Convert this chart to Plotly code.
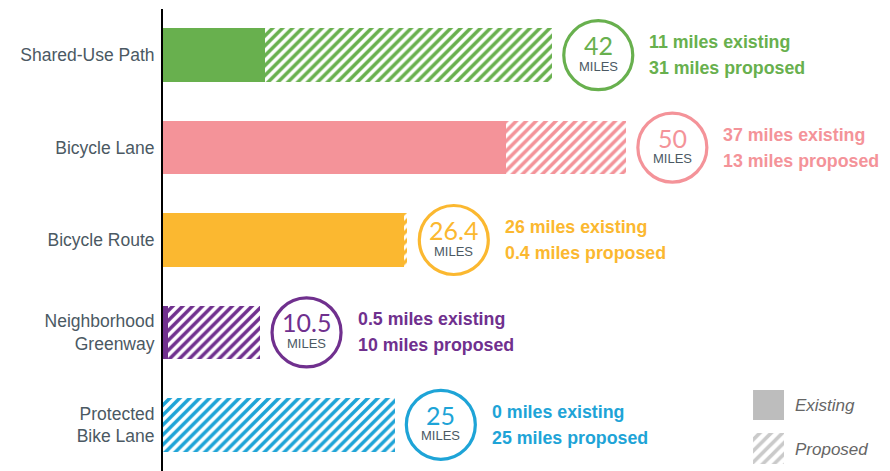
import plotly.graph_objects as go

categories = ["Shared-Use Path", "Bicycle Lane", "Bicycle Route",
              "Neighborhood<br>Greenway", "Protected<br>Bike Lane"]
existing = [11, 37, 26, 0.5, 0]
proposed = [31, 13, 0.4, 10, 25]
totals = [42, 50, 26.4, 10.5, 25]
colors = ["#68b04e", "#f49399", "#fbb830", "#70308e", "#1ea4d7"]

legend_keys = ["Existing", "Proposed"]

FONT = "Liberation Sans, Arial, sans-serif"
OFFSET = 5  # circle sits 5 miles past the bar end

fig = go.Figure()

fig.add_trace(go.Bar(
    y=categories, x=existing, orientation="h",
    marker=dict(color=colors, line=dict(width=0)),
    width=0.58, showlegend=False, hoverinfo="skip",
))
fig.add_trace(go.Bar(
    y=categories, x=proposed, orientation="h",
    marker=dict(color="white", line=dict(width=0),
                pattern=dict(shape="/", fgcolor=colors, bgcolor="white", fgopacity=1,
                             size=7, solidity=0.5, fillmode="replace")),
    width=0.58, showlegend=False, hoverinfo="skip",
))

# total circles
fig.add_trace(go.Scatter(
    y=categories, x=[t + OFFSET for t in totals], mode="markers",
    marker=dict(size=69, color="white", line=dict(color=colors, width=3.2)),
    cliponaxis=False, showlegend=False, hoverinfo="skip",
))

for cat, e, p, t, c in zip(categories, existing, proposed, totals, colors):
    cx = t + OFFSET
    fig.add_annotation(x=cx, y=cat, text=f"{t:g}", showarrow=False,
                       yshift=10, font=dict(family="Lato, sans-serif", size=25,
                                            color=c))
    fig.add_annotation(x=cx, y=cat, text="MILES", showarrow=False,
                       yshift=-11, font=dict(family=FONT, size=13, color="#4b5963"))
    fig.add_annotation(x=cx, y=cat, text=f"{e:g} miles existing", showarrow=False,
                       xanchor="left", xshift=49, yshift=13,
                       font=dict(family=FONT, size=17.8, color=c, weight="bold"))
    fig.add_annotation(x=cx, y=cat, text=f"{p:g} miles proposed", showarrow=False,
                       xanchor="left", xshift=49, yshift=-13,
                       font=dict(family=FONT, size=17.8, color=c, weight="bold"))

# legend keys on a small inset axis
fig.add_trace(go.Bar(
    y=[legend_keys[0]], x=[1], orientation="h", xaxis="x2", yaxis="y2",
    marker=dict(color="#bdbdbd", line=dict(width=0)),
    width=0.7, showlegend=False, hoverinfo="skip",
))
fig.add_trace(go.Bar(
    y=[legend_keys[1]], x=[1], orientation="h", xaxis="x2", yaxis="y2",
    marker=dict(color="white", line=dict(width=0),
                pattern=dict(shape="/", fgcolor="#cacaca", bgcolor="white", fgopacity=1,
                             size=8, solidity=0.45, fillmode="replace")),
    width=0.7, showlegend=False, hoverinfo="skip",
))

# page body adds an 8px margin, so the figure is sized to the visible area
fig.update_layout(
    width=882, height=463,
    margin=dict(l=155, r=0, t=1, b=0, autoexpand=False),
    plot_bgcolor="white", paper_bgcolor="white",
    barmode="stack", bargap=0,
    xaxis=dict(range=[0, 78.5], visible=False, fixedrange=True),
    yaxis=dict(range=[4.5, -0.5], showline=True, linecolor="black", linewidth=2,
               showgrid=False, zeroline=False, ticks="", ticklabelstandoff=3,
               automargin=False,
               tickfont=dict(family=FONT, size=17.5, color="#4b5963")),
    xaxis2=dict(domain=[0.8116, 0.8542], range=[0, 1], anchor="y2", visible=False),
    yaxis2=dict(domain=[0.0, 0.19], anchor="x2", side="right",
                categoryorder="array", categoryarray=legend_keys[::-1],
                range=[-0.5, 1.5], showgrid=False, zeroline=False, showline=False,
                ticks="", ticklabelstandoff=10, automargin=False,
                tickfont=dict(family=FONT, size=17, color="#666", style="italic")),
)

fig.write_html("out.html")
